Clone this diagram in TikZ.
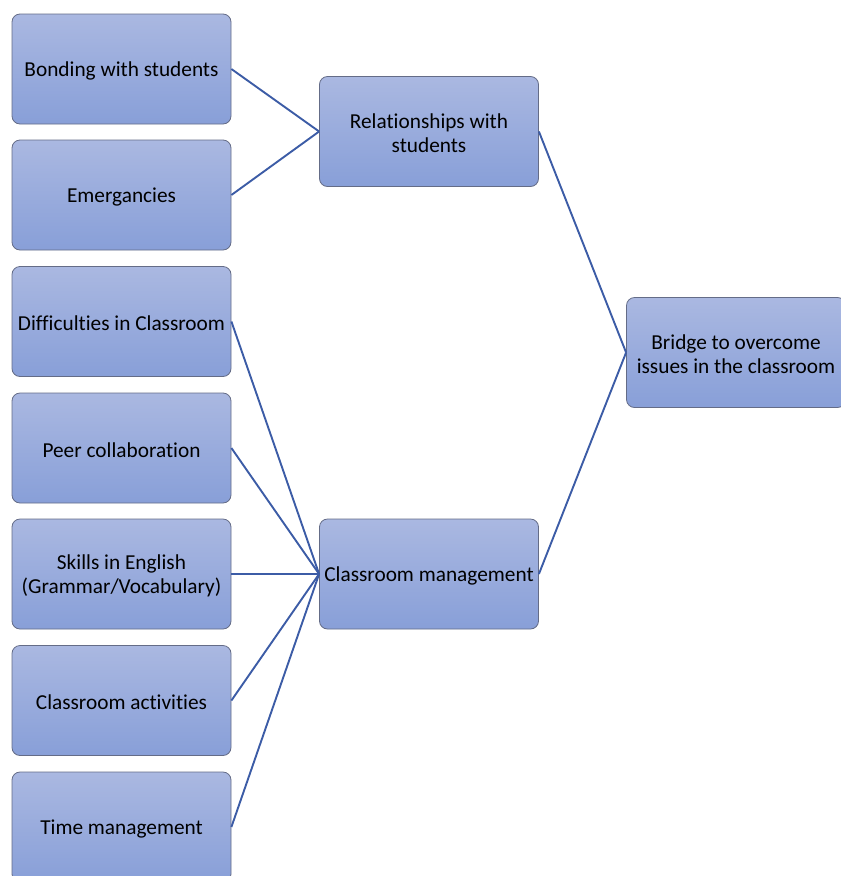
\documentclass[tikz,border=0pt]{standalone}
\usepackage{fontspec}
\setmainfont{Carlito}[Ligatures=NoCommon]
\definecolor{topc}{RGB}{170,184,225}
\definecolor{botc}{RGB}{136,159,216}
\definecolor{edgec}{RGB}{100,108,135}
\definecolor{linec}{RGB}{60,92,166}
\begin{document}
\begin{tikzpicture}[x=1pt,y=-1pt,
  box/.style={draw=edgec,line width=0.8pt,rounded corners=8pt,top color=topc,bottom color=botc,
    minimum width=219pt,minimum height=110pt,align=center,inner sep=2pt,
    font=\fontsize{21.3}{24}\selectfont,text=black},
  lbl/.style={yshift=-2pt},
  link/.style={draw=linec,line width=1.9pt}]
\useasboundingbox (0,0) rectangle (841,876);
\clip (0,0) rectangle (841,876);
\node[box] (b1) at (121.5,69) {};
\node[box] (b2) at (121.5,195) {};
\node[box] (b3) at (121.5,321.5) {};
\node[box] (b4) at (121.5,448) {};
\node[box] (b5) at (121.5,574) {};
\node[box] (b6) at (121.5,700.5) {};
\node[box] (b7) at (121.5,827) {};
\node[box] (rel) at (429,131.5) {};
\node[box] (cm) at (429,574) {};
\node[box] (br) at (736,352.5) {};
\begin{scope}[every node/.style={align=center,font=\fontsize{21.3}{24}\selectfont,inner sep=0pt}]
\node[lbl] (t1) at (b1) {Bonding with students};
\node[lbl] (t2) at (b2) {Emergancies};
\node[lbl] (t3) at (b3) {Difficulties in Classroom};
\node[lbl] (t4) at (b4) {Peer collaboration};
\node[lbl] (t5) at (b5) {Skills in English\\(Grammar/Vocabulary)};
\node[lbl] (t6) at (b6) {Classroom activities};
\node[lbl] (t7) at (b7) {Time management};
\node[lbl] (trel) at (rel) {Relationships with\\students};
\node[lbl] (tcm) at (cm) {Classroom management};
\node[lbl] (tbr) at (br) {Bridge to overcome\\issues in the classroom};
\end{scope}
\foreach \i in {1,2} \draw[link] (b\i.east) -- (rel.west);
\foreach \i in {3,4,5,6,7} \draw[link] (b\i.east) -- (cm.west);
\draw[link] (rel.east) -- (br.west);
\draw[link] (cm.east) -- (br.west);
\end{tikzpicture}
\end{document}
